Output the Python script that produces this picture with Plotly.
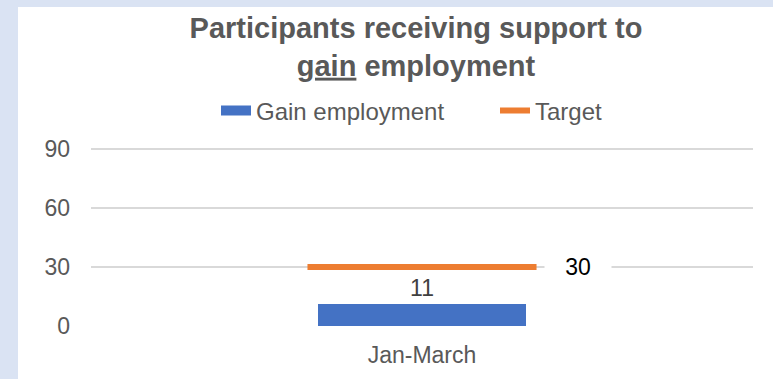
import plotly.graph_objects as go

# Quarterly figures
categories = ["Jan-March"]
gain_employment = [11]
target = [30]
y_ticks = [0, 30, 60, 90]
y_max = 91

BLUE = "#4472C4"
ORANGE = "#ED7D31"
GRID = "#D9D9D9"
TEXT = "#595959"
BACK = "#DAE3F3"
FONT = "Liberation Sans, Arial, sans-serif"

W, H = 773, 379
M_L, M_R, M_T, M_B = 91, 20, 147, 53
PLOT_W = W - M_L - M_R
PLOT_H = H - M_T - M_B

BAR_WIDTH = 0.314      # fraction of one category slot
TARGET_HALF = 0.173    # half length of the target marker, in category units

fig = go.Figure()

fig.add_trace(go.Bar(
    x=categories, y=gain_employment, width=BAR_WIDTH,
    marker=dict(color=BLUE, line=dict(width=0)),
    text=gain_employment, textposition="outside",
    textfont=dict(size=23, color="#404040", family=FONT),
    cliponaxis=False, showlegend=False, hoverinfo="skip",
))

# legend entry for the bars, drawn as a wide swatch
fig.add_trace(go.Scatter(
    x=[None], y=[None], mode="lines", name="Gain employment",
    line=dict(color=BLUE, width=11),
))

# target marker spans the category on an overlaid numeric axis
for i, t in enumerate(target):
    fig.add_trace(go.Scatter(
        x=[i - TARGET_HALF, i + TARGET_HALF], y=[t, t], mode="lines",
        line=dict(color=ORANGE, width=6), name="Target",
        xaxis="x2", showlegend=(i == 0), hoverinfo="skip",
    ))
    fig.add_annotation(
        x=i + TARGET_HALF, y=t, xref="x2", yref="y", text=str(t),
        showarrow=False, xanchor="left", yanchor="middle", xshift=7,
        bgcolor="white", width=60, align="center", borderpad=3,
        font=dict(size=23, color="#000000", family=FONT),
    )

# white chart panel on the tinted page
fig.add_shape(
    type="rect", xref="paper", yref="paper", layer="below",
    x0=(18 - M_L) / PLOT_W, x1=(W + 10 - M_L) / PLOT_W,
    y0=-(M_B + 10) / PLOT_H, y1=(H - M_B - 7) / PLOT_H,
    fillcolor="white", line=dict(width=0),
)

fig.update_layout(
    width=W, height=H,
    margin=dict(l=M_L, r=M_R, t=M_T, b=M_B, autoexpand=False),
    paper_bgcolor=BACK, plot_bgcolor="white",
    font=dict(family=FONT, color=TEXT, size=23),
    title=dict(
        text="<b>Participants receiving support to<br><u>gain</u> employment</b>",
        font=dict(size=29, color=TEXT, family=FONT),
        xref="paper", x=(416 - M_L) / PLOT_W, xanchor="center",
        yref="container", y=1 - 38 / H, yanchor="top",
    ),
    legend=dict(
        orientation="h", xref="paper", yref="paper",
        x=(216 - M_L) / PLOT_W, xanchor="left",
        y=(H - M_B - 111) / PLOT_H, yanchor="middle",
        entrywidth=234,
        font=dict(size=24, color=TEXT, family=FONT),
        bgcolor="rgba(0,0,0,0)",
    ),
    xaxis=dict(
        type="category", range=[-0.5, len(categories) - 0.5],
        showgrid=False, zeroline=False, showline=False, ticks="",
        tickfont=dict(size=23, color=TEXT), ticklabelstandoff=13,
    ),
    xaxis2=dict(
        overlaying="x", range=[-0.5, len(categories) - 0.5],
        visible=False,
    ),
    yaxis=dict(
        range=[0, y_max], tickvals=y_ticks, showgrid=True, gridcolor=GRID,
        gridwidth=2, zeroline=False, showline=False, ticks="",
        tickfont=dict(size=23, color=TEXT), ticklabelstandoff=20,
    ),
    bargap=0,
)

fig.write_html("out.html")
